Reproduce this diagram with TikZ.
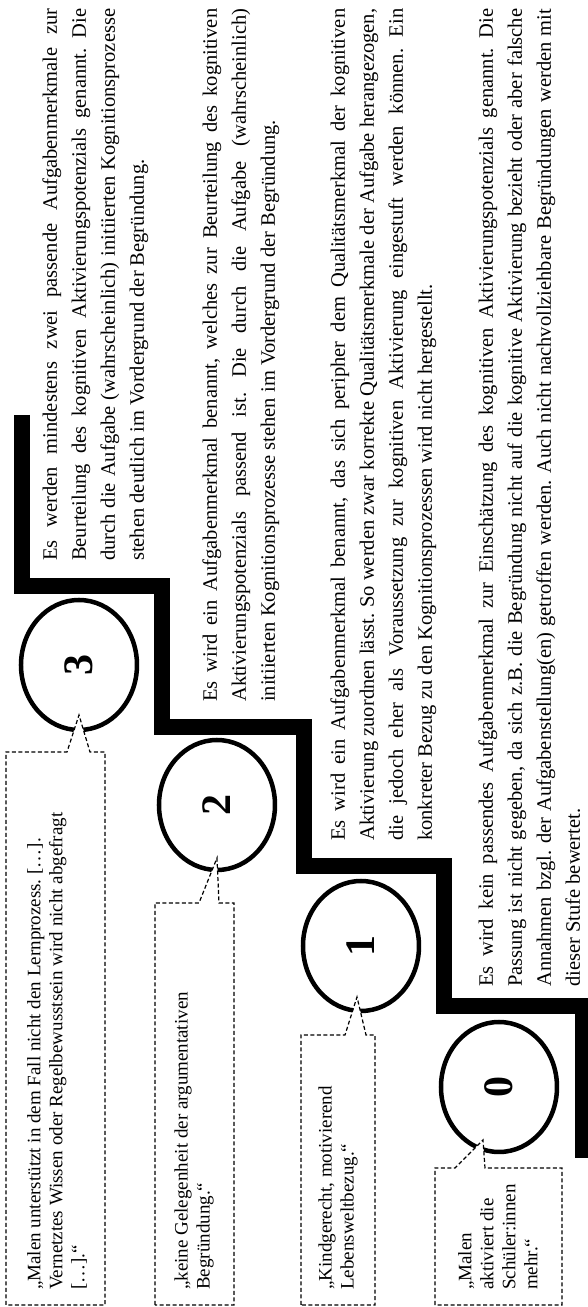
\documentclass[tikz,border=0pt]{standalone}
\usepackage{fontspec}
\setmainfont{Liberation Serif}
\usetikzlibrary{shapes.geometric}
\newcommand\justline[2]{\makebox[#1][s]{#2}}
\tikzset{
  stair/.style={line width=16pt, line join=miter, line cap=butt},
  lvl/.style={ellipse, draw, line width=4.5pt, fill=white, minimum width=130pt, minimum height=116pt, inner sep=0pt, font=\fontsize{42}{42}\selectfont\bfseries},
  bub/.style={draw, dash pattern=on 4pt off 2.5pt, line width=1.2pt, fill=white, line join=miter},
  bubtext/.style={anchor=west, align=left, inner sep=0pt, font=\fontsize{19}{22}\selectfont},
  para/.style={anchor=base west, inner sep=0pt, font=\fontsize{20.5}{27}\selectfont}
}
\begin{document}
\frenchspacing
\begin{tikzpicture}[x=1pt,y=1pt]
\begin{scope}[rotate=90, transform shape]
\useasboundingbox (0,0) rectangle (1307,587);
\fill[white] (0,0) rectangle (1307,587);
% staircase
\draw[stair] (892,565) -- (721,565) -- (721,425) -- (580,425) -- (580,283) -- (441,283) -- (441,143) -- (301,143) -- (301,4) -- (149,4);
% level circles
\node[lvl] (c3) at (642,508) {3};
\node[lvl] (c2) at (502,370) {2};
\node[lvl] (c1) at (361,226) {1};
\node[lvl] (c0) at (220,88) {0};
% speech bubbles
\draw[bub] (2,581) -- (555,581) -- (555,520) -- (592,508) -- (555,497) -- (555,482) -- (2,482) -- cycle;
\draw[bub] (2,432) -- (404,432) -- (404,388) -- (449,370) -- (404,368) -- (404,353) -- (2,353) -- cycle;
\draw[bub] (2,286) -- (272,286) -- (272,242) -- (310,230) -- (272,221) -- (272,212) -- (2,212) -- cycle;
\draw[bub] (2,152) -- (139,152) -- (139,132) -- (167,104) -- (139,102) -- (139,25) -- (2,25) -- cycle;
\node[bubtext] (b3) at (17,530) {„Malen unterstützt in dem Fall nicht den Lernprozess. […].\\Vernetztes Wissen oder Regelbewusstsein wird nicht abgefragt\\{[…].“}};
\node[bubtext] (b2) at (17,393) {„keine Gelegenheit der argumentativen\\Begründung.“};
\node[bubtext] (b1) at (17,249) {„Kindgerecht, motivierend\\Lebensweltbezug.“};
\node[bubtext] (b0) at (17,89) {„Malen\\aktiviert die\\Schüler:innen\\mehr.“};
% level 3 text
\node[para] (p3a) at (746,530) {\justline{552pt}{Es werden mindestens zwei passende Aufgabenmerkmale zur}};
\node[para] (p3b) at (746,501) {\justline{552pt}{Beurteilung des kognitiven Aktivierungspotenzials genannt. Die}};
\node[para] (p3c) at (746,472) {\justline{552pt}{durch die Aufgabe (wahrscheinlich) initiierten Kognitionsprozesse}};
\node[para] (p3d) at (746,443) {stehen deutlich im Vordergrund der Begründung.};
% level 2 text
\node[para] (p2a) at (605,370) {\justline{693pt}{Es wird ein Aufgabenmerkmal benannt, welches zur Beurteilung des kognitiven}};
\node[para] (p2b) at (605,341) {\justline{693pt}{Aktivierungspotenzials passend ist. Die durch die Aufgabe (wahrscheinlich)}};
\node[para] (p2c) at (605,312) {initiierten Kognitionsprozesse stehen im Vordergrund der Begründung.};
% level 1 text
\node[para] (p1a) at (466,242) {\justline{832pt}{Es wird ein Aufgabenmerkmal benannt, das sich peripher dem Qualitätsmerkmal der kognitiven}};
\node[para] (p1b) at (466,213) {\justline{832pt}{Aktivierung zuordnen lässt. So werden zwar korrekte Qualitätsmerkmale der Aufgabe herangezogen,}};
\node[para] (p1c) at (466,184) {\justline{832pt}{die jedoch eher als Voraussetzung zur kognitiven Aktivierung eingestuft werden können. Ein}};
\node[para] (p1d) at (466,155) {konkreter Bezug zu den Kognitionsprozessen wird nicht hergestellt.};
% level 0 text
\node[para] (p0a) at (320,94) {\justline{978pt}{Es wird kein passendes Aufgabenmerkmal zur Einschätzung des kognitiven Aktivierungspotenzials genannt. Die}};
\node[para] (p0b) at (320,65) {\justline{978pt}{Passung ist nicht gegeben, da sich z.B. die Begründung nicht auf die kognitive Aktivierung bezieht oder aber falsche}};
\node[para] (p0c) at (320,36) {\justline{978pt}{Annahmen bzgl. der Aufgabenstellung(en) getroffen werden. Auch nicht nachvollziehbare Begründungen werden mit}};
\node[para] (p0d) at (320,7) {dieser Stufe bewertet.};
\end{scope}
\end{tikzpicture}
\end{document}
